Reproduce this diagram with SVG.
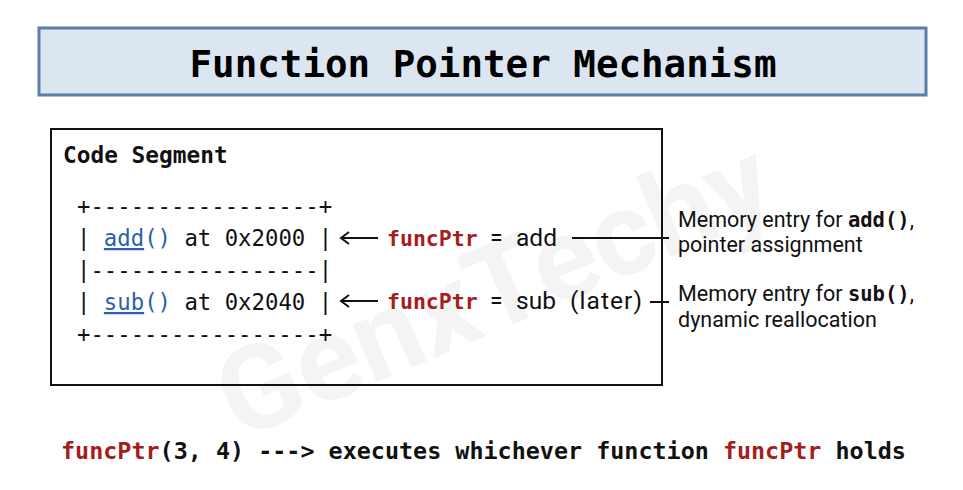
<svg xmlns="http://www.w3.org/2000/svg" width="963" height="490" viewBox="0 0 963 490">
<style>
.mono{font-family:"DejaVu Sans Mono","Liberation Mono",monospace}
.b{font-weight:bold}
.sans{font-family:Roboto,"Liberation Sans",sans-serif}
.red{fill:#a51d1d}
.blue{fill:#2b5fa8}
.ln{stroke:#111;stroke-width:2;fill:none}
</style>
<defs>
<marker id="ah" markerWidth="12" markerHeight="14" refX="10" refY="7" orient="auto" markerUnits="userSpaceOnUse">
<path d="M2,1 L10,7 L2,13" fill="none" stroke="#111" stroke-width="2"/>
</marker>
</defs>
<rect width="963" height="490" fill="#fff"/>
<text x="490" y="330" transform="rotate(-23 490 280)" text-anchor="middle" font-family="Roboto,'Liberation Sans',sans-serif" font-weight="bold" font-size="118" fill="#000" fill-opacity="0.045">GenxTechy</text>
<g id="title">
<rect x="39" y="28" width="887" height="67" fill="#dce6f1" stroke="#5a7ea6" stroke-width="3"/>
<text x="483" y="77" text-anchor="middle" class="mono b" font-size="37.5" fill="#000">Function Pointer Mechanism</text>
</g>
<g id="code-segment">
<rect x="51" y="129" width="611" height="256" fill="none" stroke="#111" stroke-width="2"/>
<text x="63" y="163" class="mono b" font-size="22.8" fill="#111">Code Segment</text>
<g class="mono" font-size="22.3" fill="#111">
<text x="77" y="214" xml:space="preserve">+-----------------+</text>
<text x="77" y="246" xml:space="preserve">| <tspan class="blue" text-decoration="underline">add</tspan><tspan class="blue">()</tspan> at 0x2000 |</text>
<text x="77" y="278" xml:space="preserve">|-----------------|</text>
<text x="77" y="310" xml:space="preserve">| <tspan class="blue" text-decoration="underline">sub</tspan><tspan class="blue">()</tspan> at 0x2040 |</text>
<text x="77" y="342" xml:space="preserve">+-----------------+</text>
</g>
</g>
<g id="assign-add">
<text x="387" y="246" class="mono b red" font-size="21.5">funcPtr</text>
<text x="490" y="246" class="sans" font-size="23" fill="#111">=</text>
<text x="516" y="246" class="sans" font-size="24.5" fill="#111">add</text>
</g>
<g id="assign-sub">
<text x="387" y="309" class="mono b red" font-size="21.5">funcPtr</text>
<text x="490" y="309" class="sans" font-size="23" fill="#111">=</text>
<text x="516" y="309" class="sans" font-size="24.5" fill="#111">sub</text>
<text x="570" y="309" class="sans" font-size="24.5" fill="#111" textLength="72" lengthAdjust="spacing">(later)</text>
</g>
<g id="note-add">
<text x="678" y="227" class="sans" font-size="21.5" fill="#111">Memory entry for <tspan class="mono b" font-size="20.5">add()</tspan>,</text>
<text x="678" y="252" class="sans" font-size="21.5" fill="#111">pointer assignment</text>
</g>
<g id="note-sub">
<text x="678" y="301" class="sans" font-size="21.5" fill="#111">Memory entry for <tspan class="mono b" font-size="20.5">sub()</tspan>,</text>
<text x="678" y="327" class="sans" font-size="21.5" fill="#111">dynamic reallocation</text>
</g>
<g id="connectors">
<line x1="378" y1="238" x2="341" y2="238" class="ln" marker-end="url(#ah)"/>
<line x1="378" y1="301" x2="341" y2="301" class="ln" marker-end="url(#ah)"/>
<line x1="572" y1="238" x2="669" y2="238" class="ln"/>
<line x1="650" y1="302" x2="669" y2="302" class="ln"/>
</g>
<g id="footer">
<text x="61" y="459" class="mono b" font-size="23.4" fill="#111" xml:space="preserve"><tspan class="red">funcPtr</tspan>(3, 4) ---&gt; executes whichever function <tspan class="red">funcPtr</tspan> holds</text>
</g>
</svg>
